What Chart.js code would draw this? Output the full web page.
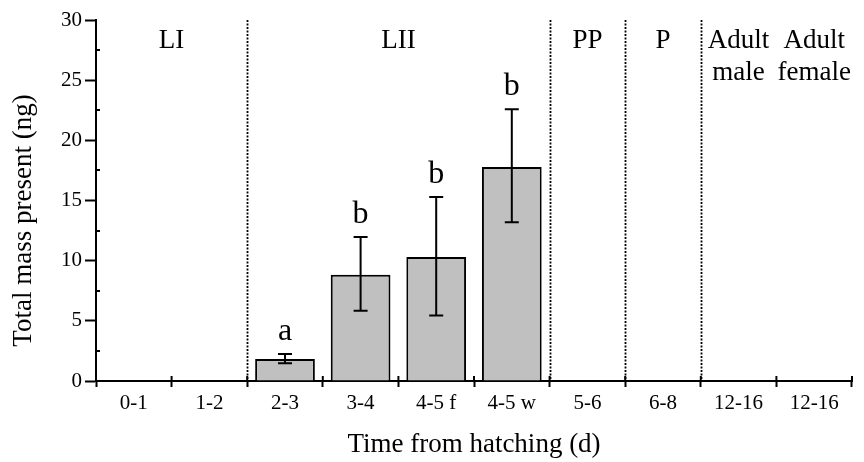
<!DOCTYPE html>
<html>
<head>
<meta charset="utf-8">
<script src="https://cdn.jsdelivr.net/npm/chart.js@4/dist/chart.umd.min.js"></script>
<style>
  html, body { margin: 0; padding: 0; background: #fff; }
  #wrap { width: 864px; height: 462px; }
</style>
</head>
<body>
<div id="wrap"><canvas id="chart" width="864" height="462"></canvas></div>
<script>
const categories = ['0-1', '1-2', '2-3', '3-4', '4-5 f', '4-5 w', '5-6', '6-8', '12-16', '12-16'];
const massValues = [0, 0, 1.82, 8.83, 10.3, 17.78, 0, 0, 0, 0];
const errLow = [null, null, 1.47, 5.83, 5.44, 13.19, null, null, null, null];
const errHigh = [null, null, 2.25, 11.97, 15.3, 22.58, null, null, null, null];
const groupLetters = ['', '', 'a', 'b', 'b', 'b', '', '', '', ''];
const stageNames = [['LI'], ['LII'], ['PP'], ['P'], ['Adult', 'male'], ['Adult', 'female']];
const stageFrom = [0, 2, 6, 7, 8, 9];
const stageTo = [1, 5, 6, 7, 8, 9];
const stageDividers = [1, 5, 6, 7]; // dotted line after these categories
const yTicks = [0, 5, 10, 15, 20, 25, 30];
const yTitle = 'Total mass present (ng)';

const serif = '"Liberation Serif", "DejaVu Serif", serif';

const annotations = {
  id: 'annotations',
  afterDatasetsDraw(chart) {
    const { ctx, chartArea } = chart;
    const x = chart.scales.x;
    const y = chart.scales.y;
    const mid = (a, b) => (x.getPixelForValue(a) + x.getPixelForValue(b)) / 2;
    ctx.save();

    // minor ticks on y axis
    ctx.strokeStyle = '#000';
    ctx.lineWidth = 2;
    for (let v = 2.5; v < 30; v += 5) {
      const py = Math.round(y.getPixelForValue(v));
      ctx.beginPath();
      ctx.moveTo(chartArea.left, py);
      ctx.lineTo(chartArea.left + 4, py);
      ctx.stroke();
    }

    // upper part of the x ticks (they cross the axis)
    const step = x.getPixelForValue(1) - x.getPixelForValue(0);
    for (let i = 0; i <= categories.length; i++) {
      const px = x.getPixelForValue(i) - step / 2;
      ctx.beginPath();
      ctx.moveTo(px, chartArea.bottom);
      ctx.lineTo(px, chartArea.bottom - 5);
      ctx.stroke();
    }

    // dotted stage dividers
    ctx.setLineDash([2, 1.5]);
    ctx.lineWidth = 1.8;
    stageDividers.forEach((i) => {
      const px = Math.round(mid(i, i + 1)) + 0.5;
      ctx.beginPath();
      ctx.moveTo(px, y.getPixelForValue(30));
      ctx.lineTo(px, chartArea.bottom);
      ctx.stroke();
    });
    ctx.setLineDash([]);

    // error bars
    ctx.lineWidth = 2;
    errHigh.forEach((hi, i) => {
      if (hi === null) return;
      const px = x.getPixelForValue(i);
      const top = y.getPixelForValue(hi);
      const bot = y.getPixelForValue(errLow[i]);
      ctx.beginPath();
      ctx.moveTo(px, top);
      ctx.lineTo(px, bot);
      ctx.moveTo(px - 7, top);
      ctx.lineTo(px + 7, top);
      ctx.moveTo(px - 7, bot);
      ctx.lineTo(px + 7, bot);
      ctx.stroke();
    });

    // significance letters
    ctx.fillStyle = '#000';
    ctx.textAlign = 'center';
    ctx.textBaseline = 'alphabetic';
    ctx.font = '32px ' + serif;
    groupLetters.forEach((letter, i) => {
      if (!letter) return;
      ctx.fillText(letter, x.getPixelForValue(i), y.getPixelForValue(errHigh[i]) - 14);
    });

    // stage names
    ctx.font = '27px ' + serif;
    ctx.textBaseline = 'middle';
    stageNames.forEach((lines, s) => {
      const cx = mid(stageFrom[s], stageTo[s]);
      lines.forEach((line, k) => {
        ctx.fillText(line, cx, y.getPixelForValue(28.3 - k * 2.7));
      });
    });

    // y axis title (sits a little below the axis middle in the original)
    ctx.translate(24, (y.getPixelForValue(0) + y.getPixelForValue(30)) / 2 + 20);
    ctx.rotate(-Math.PI / 2);
    ctx.font = '27px ' + serif;
    ctx.fillText(yTitle, 0, 0);

    ctx.restore();
  }
};

new Chart(document.getElementById('chart'), {
  type: 'bar',
  data: {
    labels: categories,
    datasets: [
      {
        data: massValues,
        backgroundColor: '#c0c0c0',
        borderColor: '#000',
        borderWidth: 2,
        borderSkipped: 'start',
        barPercentage: 0.79,
        categoryPercentage: 1
      }
    ]
  },
  options: {
    responsive: false,
    animation: false,
    devicePixelRatio: 1,
    layout: { padding: { top: 20, right: 12, left: 0, bottom: 0 } },
    plugins: {
      legend: { display: false },
      tooltip: { enabled: false }
    },
    scales: {
      x: {
        offset: true,
        afterFit: (scale) => { scale.height = 81; },
        grid: {
          offset: true,
          drawOnChartArea: false,
          tickLength: 6,
          tickWidth: 2,
          tickColor: '#000'
        },
        border: { color: '#000', width: 2 },
        ticks: {
          color: '#000',
          padding: 4,
          maxRotation: 0,
          autoSkip: false,
          font: { family: serif, size: 21 }
        },
        title: {
          display: true,
          text: 'Time from hatching (d)',
          color: '#000',
          padding: { top: 0, bottom: 1 },
          font: { family: serif, size: 27 }
        }
      },
      y: {
        min: 0,
        max: 30,
        afterFit: (scale) => { scale.width = 96; },
        afterBuildTicks: (scale) => { scale.ticks = yTicks.map((v) => ({ value: v })); },
        grid: {
          drawOnChartArea: false,
          tickLength: 11,
          tickWidth: 2,
          tickColor: '#000'
        },
        border: { color: '#000', width: 2 },
        ticks: {
          color: '#000',
          padding: 3,
          font: { family: serif, size: 21 }
        }
      }
    }
  },
  plugins: [annotations]
});
</script>
</body>
</html>
